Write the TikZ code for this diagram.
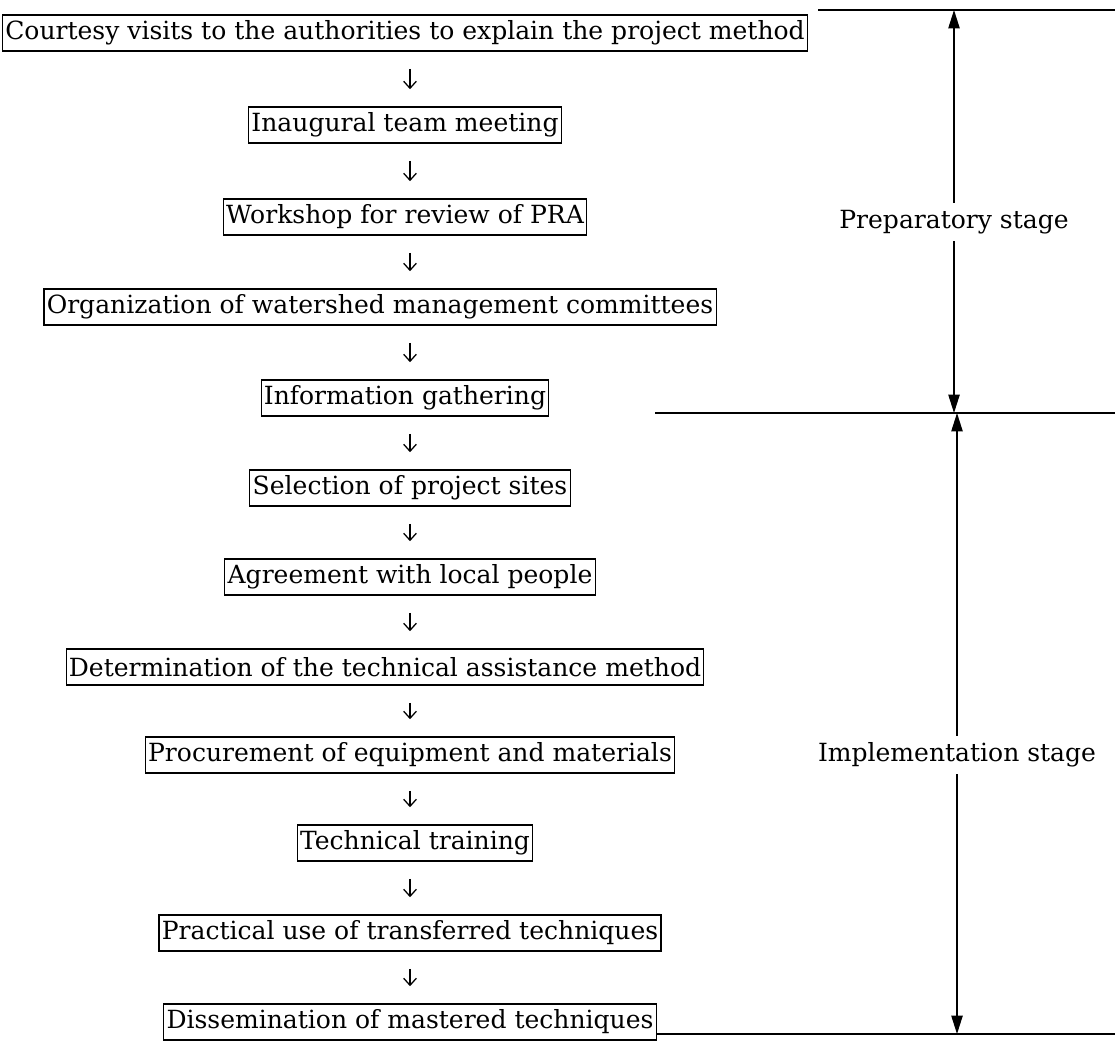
\documentclass[tikz,border=0pt]{standalone}
\usepackage{fontspec}
\setmainfont{DejaVu Serif}
\usetikzlibrary{arrows.meta}
\begin{document}
\begin{tikzpicture}[x=0.025cm,y=-0.025cm,
  stepbox/.style={draw,line width=0.8pt,inner xsep=2pt,inner ysep=0pt,minimum height=0.9cm,font=\fontsize{17.8}{20}\selectfont},
  flow/.style={-{Straight Barb[length=5pt,width=9pt]},line width=0.9pt,shorten <=0.43cm,shorten >=0.43cm},
  stage/.style={{Triangle[length=13pt,width=8pt]}-{Triangle[length=13pt,width=8pt]},line width=1pt},
  stagelabel/.style={fill=white,inner sep=5pt,font=\fontsize{17.8}{20}\selectfont}]
\useasboundingbox (0,0) rectangle (1115,1040);
\node[stepbox] (b1) at (405,33) {Courtesy visits to the authorities to explain the project method};
\node[stepbox] (b2) at (405,125) {Inaugural team meeting};
\node[stepbox] (b3) at (405,217) {Workshop for review of PRA};
\node[stepbox] (b4) at (380,307) {Organization of watershed management committees};
\node[stepbox] (b5) at (405,398) {Information gathering};
\node[stepbox] (b6) at (410,488) {Selection of project sites};
\node[stepbox] (b7) at (410,577) {Agreement with local people};
\node[stepbox] (b8) at (385,667) {Determination of the technical assistance method};
\node[stepbox] (b9) at (410,755) {Procurement of equipment and materials};
\node[stepbox] (b10) at (415,843) {Technical training};
\node[stepbox] (b11) at (410,933) {Practical use of transferred techniques};
\node[stepbox] (b12) at (410,1022) {Dissemination of mastered techniques};
\foreach \a/\b in {b1/b2,b2/b3,b3/b4,b4/b5,b5/b6,b6/b7,b7/b8,b8/b9,b9/b10,b10/b11,b11/b12}
  \draw[flow] (\a.south -| 410,0) -- (\b.north -| 410,0);
\coordinate (topl) at (818,10);
\coordinate (topr) at (1115,10);
\coordinate (midl) at (655,413);
\coordinate (midr) at (1115,413);
\coordinate (botr) at (1115,1034);
\coordinate (pa) at (954,10);
\coordinate (pb) at (954,413);
\coordinate (ia) at (957,413);
\coordinate (ib) at (957,1034);
\draw[line width=1pt] (topl) -- (topr);
\draw[line width=1pt] (midl) -- (midr);
\draw[line width=1pt] (b12.east |- botr) -- (botr);
\draw[stage] (pa) -- (pb);
\draw[stage] (ia) -- (ib);
\node[stagelabel] (prep) at (954,222) {Preparatory stage};
\node[stagelabel] (impl) at (957,755) {Implementation stage};
\end{tikzpicture}
\end{document}
